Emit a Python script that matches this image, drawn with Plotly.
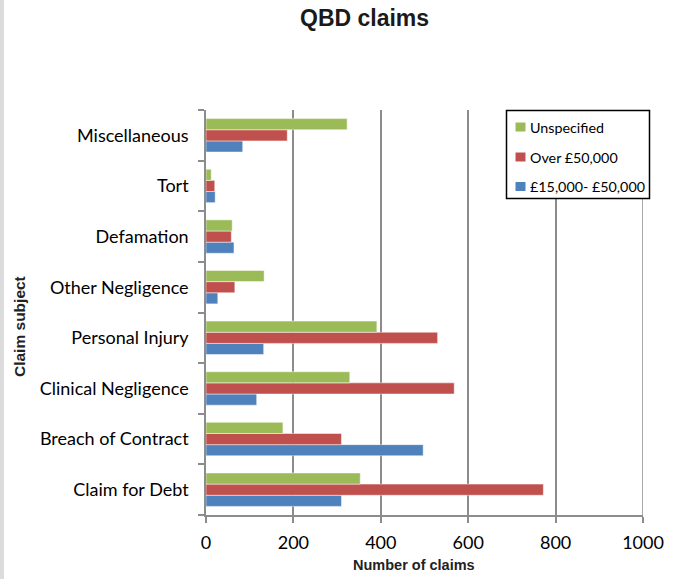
import plotly.graph_objects as go

categories = ["Claim for Debt", "Breach of Contract", "Clinical Negligence", "Personal Injury",
              "Other Negligence", "Defamation", "Tort", "Miscellaneous"]
band_15k_50k = [310, 497, 116, 132, 27, 64, 21, 84]
over_50k = [772, 310, 568, 530, 66, 58, 20, 186]
unspecified = [353, 176, 329, 391, 133, 60, 12, 323]
x_ticks = [0, 200, 400, 600, 800, 1000]

W, H = 678, 579
L, R, T, B = 206, 35, 110, 64
PW = W - L - R
PH = H - T - B


def px_x(p):
    return (p - L) / PW


def px_y(p):
    return 1 - (p - T) / PH


fig = go.Figure()
series = [
    ("£15,000- £50,000", band_15k_50k, "#4F81BD"),
    ("Over £50,000", over_50k, "#C0504D"),
    ("Unspecified", unspecified, "#9BBB59"),
]
for name, vals, col in series:
    fig.add_trace(go.Bar(
        y=categories, x=vals, name=name, orientation="h",
        marker=dict(color=col, line=dict(color="rgba(255,255,255,0.6)", width=0.8)),
        showlegend=False,
    ))

tick_font = dict(family="Lato, Carlito, sans-serif", size=18, color="#000000")

annotations = [
    dict(text="<b>QBD claims</b>", xref="paper", yref="paper",
         x=px_x(364), y=px_y(18), xanchor="center", yanchor="middle",
         showarrow=False, font=dict(family="Liberation Sans, Arial", size=23, color="#1a1a1a")),
    dict(text="<b>Number of claims</b>", xref="paper", yref="paper",
         x=px_x(414), y=px_y(565), xanchor="center", yanchor="middle",
         showarrow=False, font=dict(family="Liberation Sans, Arial", size=14.5, color="#222222")),
    dict(text="<b>Claim subject</b>", xref="paper", yref="paper", textangle=-90,
         x=px_x(19), y=px_y(327), xanchor="center", yanchor="middle",
         showarrow=False, font=dict(family="Liberation Sans, Arial", size=15.5, color="#222222")),
]
shapes = [
    dict(type="rect", xref="paper", yref="paper",
         x0=px_x(0), x1=px_x(4), y0=px_y(H), y1=px_y(0),
         fillcolor="#dcdcdc", line=dict(width=0), layer="above"),
    # gridline at the right edge (1000)
    dict(type="line", xref="x", yref="paper", x0=1000, x1=1000, y0=0, y1=1,
         line=dict(color="#8c8c8c", width=1.5), layer="below"),
    # legend box
    dict(type="rect", xref="paper", yref="paper",
         x0=px_x(506.5), x1=px_x(649.5), y0=px_y(198.5), y1=px_y(110.5),
         fillcolor="white", line=dict(color="#000000", width=1.5), layer="above"),
]
legend_rows = [("Unspecified", "#9BBB59", 127), ("Over £50,000", "#C0504D", 157),
               ("£15,000- £50,000", "#4F81BD", 186.5)]
for name, col, cy in legend_rows:
    shapes.append(dict(type="rect", xref="paper", yref="paper",
                       x0=px_x(515.5), x1=px_x(525.5), y0=px_y(cy + 4.5), y1=px_y(cy - 4.5),
                       fillcolor=col, line=dict(width=0), layer="above"))
    annotations.append(dict(text=name, xref="paper", yref="paper",
                            x=px_x(527.5), y=px_y(cy), xanchor="left", yanchor="middle",
                            showarrow=False,
                            font=dict(family="Lato, Carlito, sans-serif", size=14.3, color="#000000")))

fig.update_layout(
    width=W, height=H,
    margin=dict(l=L, r=R, t=T, b=B),
    paper_bgcolor="white", plot_bgcolor="white",
    barmode="group", bargap=0.34, bargroupgap=0,
    showlegend=False,
    xaxis=dict(
        range=[0, 1000], tickvals=x_ticks, ticktext=[str(v) for v in x_ticks],
        showgrid=True, gridcolor="#8c8c8c", gridwidth=1.5,
        showline=True, linecolor="#8c8c8c", linewidth=1.5,
        ticks="outside", ticklen=6, tickcolor="#8c8c8c", tickwidth=1.5,
        tickfont=tick_font, zeroline=False, ticklabelstandoff=5,
    ),
    yaxis=dict(
        categoryorder="array", categoryarray=categories,
        showline=True, linecolor="#8c8c8c", linewidth=1.5,
        ticks="outside", ticklen=6, tickcolor="#8c8c8c", tickwidth=1.5,
        tickson="boundaries", tickfont=tick_font, showgrid=False,
        ticklabelstandoff=12,
    ),
    annotations=annotations,
    shapes=shapes,
)

fig.write_html("out.html")
